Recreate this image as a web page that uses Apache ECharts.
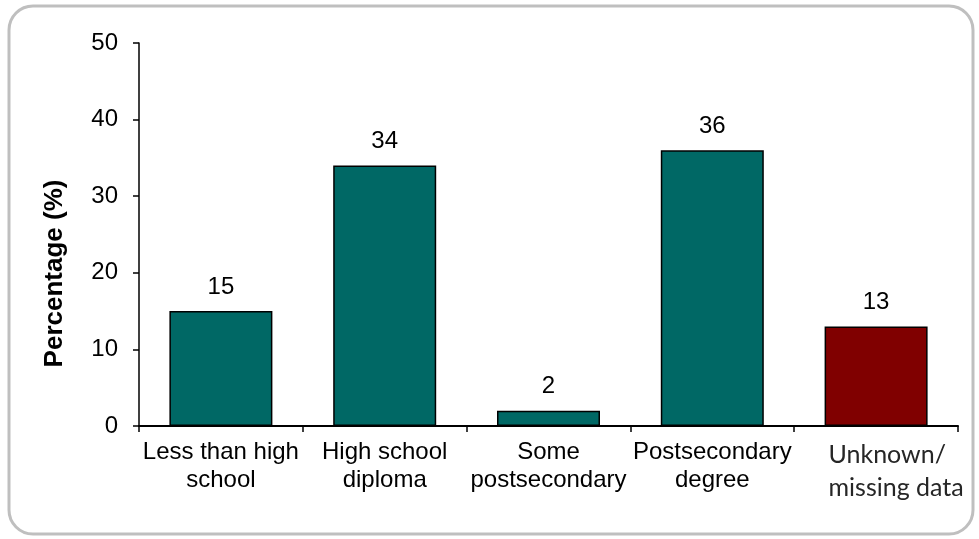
<!DOCTYPE html>
<html>
<head>
<meta charset="utf-8">
<script src="https://cdn.jsdelivr.net/npm/echarts@6/dist/echarts.min.js"></script>
<style>
  html, body { margin: 0; padding: 0; background: #fff; }
  #chart { width: 979px; height: 539px; }
</style>
</head>
<body>
<div id="chart"></div>
<script>
// Education level distribution
const categories = [
  'Less than high\nschool',
  'High school\ndiploma',
  'Some\npostsecondary',
  'Postsecondary\ndegree',
  'Unknown/\nmissing data'
];
const values = [15, 34, 2, 36, 13];
const barColors = ['#006865', '#006865', '#006865', '#006865', '#800000'];
const yTicks = { min: 0, max: 50, interval: 10 };

const FONT = 'Liberation Sans, Arial, sans-serif';
const chart = echarts.init(document.getElementById('chart'));

chart.setOption({
  animation: false,
  graphic: [{
    type: 'rect',
    shape: { x: 9, y: 6, width: 964, height: 528, r: 24 },
    style: { fill: 'none', stroke: '#bfbfbf', lineWidth: 3 },
    z: -1
  }],
  grid: { left: 139, right: 21, top: 43, bottom: 113 },
  xAxis: {
    type: 'category',
    data: categories,
    axisLine: { lineStyle: { color: '#000', width: 2 } },
    axisTick: { show: true, length: 6, alignWithLabel: false, lineStyle: { color: '#000', width: 1.5 } },
    axisLabel: {
      interval: 0,
      margin: 12,
      color: '#000',
      fontFamily: FONT,
      fontSize: 24,
      lineHeight: 28,
      formatter: function (v, i) {
        // the last category is set in a different face, left-aligned
        return i === 4 ? '{c|' + v.split('\n').join('}\n{c|') + '}' : v;
      },
      rich: {
        c: {
          fontFamily: 'Lato, Open Sans, sans-serif', fontSize: 25, color: '#262626',
          lineHeight: 33, align: 'left', padding: [0, 0, 0, 40]
        }
      }
    }
  },
  yAxis: {
    type: 'value',
    min: yTicks.min,
    max: yTicks.max,
    interval: yTicks.interval,
    name: 'Percentage (%)',
    nameLocation: 'middle',
    nameGap: 71,
    nameTextStyle: {
      fontFamily: FONT, fontWeight: 'bold', fontSize: 26, color: '#000',
      // sits a little below the axis midpoint
      padding: [0, 78, 0, 0]
    },
    splitLine: { show: false },
    axisLine: { show: true, lineStyle: { color: '#000', width: 1.5 } },
    axisTick: { show: true, length: 6, lineStyle: { color: '#000', width: 1.5 } },
    axisLabel: { margin: 21, color: '#000', fontFamily: FONT, fontSize: 24 }
  },
  series: [{
    type: 'bar',
    barWidth: 103,
    data: values.map((v, i) => ({ value: v, itemStyle: { color: barColors[i] } })),
    itemStyle: { borderColor: '#000', borderWidth: 1.5 },
    label: {
      show: true,
      position: 'top',
      distance: 12,
      color: '#000',
      fontFamily: FONT,
      fontSize: 24
    }
  }]
});
</script>
</body>
</html>
